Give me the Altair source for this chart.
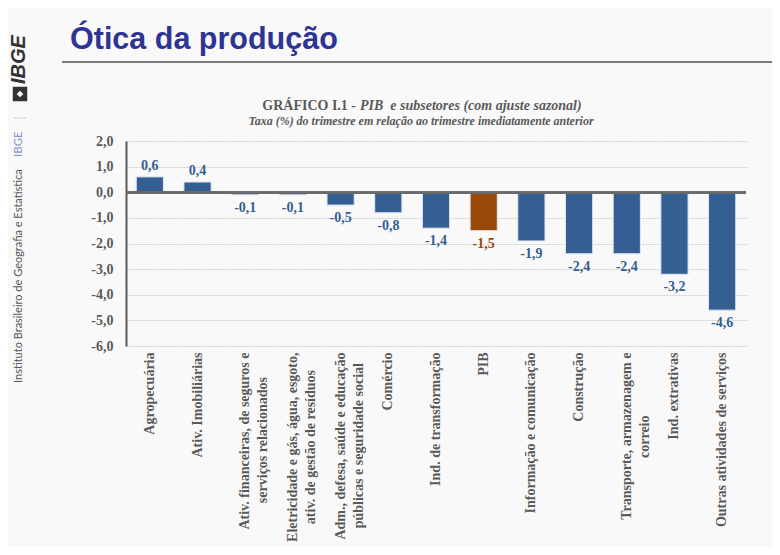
import altair as alt
import pandas as pd

categories = [
    "Agropecuária",
    "Ativ. Imobiliárias",
    "Ativ. financeiras, de seguros e\nserviços relacionados",
    "Eletricidade e gás, água, esgoto,\nativ. de gestão de resíduos",
    "Adm., defesa, saúde e educação\npúblicas e seguridade social",
    "Comércio",
    "Ind. de transformação",
    "PIB",
    "Informação e comunicação",
    "Construção",
    "Transporte, armazenagem e\ncorreio",
    "Ind. extrativas",
    "Outras atividades de serviços",
]
values = [0.6, 0.4, -0.1, -0.1, -0.5, -0.8, -1.4, -1.5, -1.9, -2.4, -2.4, -3.2, -4.6]
groups = ["setor"] * 7 + ["pib"] + ["setor"] * 5
y_ticks = [2, 1, 0, -1, -2, -3, -4, -5, -6]

slide_title = "Ótica da produção"
chart_title_a = "GRÁFICO I.1 -"
chart_title_b = "PIB\u00a0 e subsetores (com ajuste sazonal)"
chart_subtitle = "Taxa (%) do trimestre em relação ao trimestre imediatamente anterior"
side_text = "Instituto Brasileiro de Geografia e Estatística"
side_short = "IBGE"
logo_text = "IBGE"

# approximate Times-Bold advance widths (1/1000 em), used only to centre wrapped label lines
_W = {" ": 250, ",": 250, ".": 250, "a": 500, "b": 556, "c": 444, "d": 556, "e": 444,
      "f": 333, "g": 500, "h": 556, "i": 278, "j": 333, "k": 556, "l": 278, "m": 833,
      "n": 556, "o": 500, "p": 556, "q": 556, "r": 444, "s": 389, "t": 333, "u": 556,
      "v": 500, "w": 722, "x": 500, "y": 500, "z": 444, "á": 500, "ã": 500, "é": 444,
      "í": 278, "ç": 444, "ú": 556, "A": 722, "E": 667, "T": 667, "C": 722, "I": 389}


def _width(s):
    return sum(_W.get(ch, 500) for ch in s)


def centred(label):
    # rotated labels are end-anchored; pad shorter lines (NBSP + zero-width end so
    # the padding is not trimmed) so every line sits centred on the longest one
    lines = label.split("\n")
    longest = max(_width(s) for s in lines)
    out = []
    for s in lines:
        n = round((longest - _width(s)) / 2 / 250)
        out.append(s + ("\u00a0" * n + "\u200b" if n else ""))
    return "\n".join(out)


display = [centred(c) for c in categories]

df = pd.DataFrame({"cat": display, "v": values, "grp": groups})

SERIF = "Liberation Serif"
GRAY = "#595959"
BLUE = "#355f92"
ORANGE = "#994a08"
fmt = "(datum.v < 0 ? '-' : '') + replace(format(abs(datum.v), '.1f'), '.', ',')"
axis_fmt = "(datum.value < 0 ? '-' : '') + replace(format(abs(datum.value), '.1f'), '.', ',')"

x_scale = alt.Scale(paddingInner=0.43, paddingOuter=0.215)
y_scale = alt.Scale(domain=[-6, 2], nice=False)

x_axis = alt.Axis(
    title=None, labelAngle=-90, labelFont=SERIF, labelFontSize=14,
    labelFontWeight="bold", labelColor=GRAY, labelPadding=6,
    labelLimit=400, labelLineHeight=18, ticks=False, domain=False,
    labelOverlap=False, grid=False,
    labelExpr="split(datum.value, '\\n')",
)
y_axis = alt.Axis(
    title=None, values=y_ticks, labelExpr=axis_fmt, labelFont=SERIF,
    labelFontSize=14, labelFontWeight="bold", labelColor=GRAY,
    labelPadding=13, ticks=False, domainColor=GRAY, domainWidth=2,
    labelOverlap=False, labelFlush=False,
    gridColor="#d0d0d0", gridDash=[2, 1], gridWidth=1,
)
x = alt.X("cat:N", sort=display, scale=x_scale, axis=x_axis)
y = alt.Y("v:Q", scale=y_scale, axis=y_axis)
color = alt.Color("grp:N", scale=alt.Scale(domain=["setor", "pib"], range=[BLUE, ORANGE]), legend=None)
label_color = alt.Color("grp:N", scale=alt.Scale(domain=["setor", "pib"], range=["#33598a", "#9a4a10"]), legend=None)

base = alt.Chart(df)
bars = base.mark_bar(stroke="#dfe7f1", strokeWidth=1).encode(x=x, y=y, color=color)
zero = base.mark_rule(color="#6b6b6b", strokeWidth=2.5).encode(y=alt.Y(datum=0, scale=y_scale, axis=y_axis))
lab_pos = base.transform_filter("datum.v >= 0").transform_calculate(lbl=fmt).mark_text(
    font=SERIF, fontSize=14, fontWeight="bold", baseline="middle", dy=-11
).encode(x=x, y=y, text="lbl:N", color=label_color)
lab_neg = base.transform_filter("datum.v < 0").transform_calculate(lbl=fmt).mark_text(
    font=SERIF, fontSize=14, fontWeight="bold", baseline="middle", dy=13
).encode(x=x, y=y, text="lbl:N", color=label_color)

one = alt.Data(values=[{}])


def txt(s, xp, yp, **kw):
    return alt.Chart(one).mark_text(text=s, **kw).encode(x=alt.value(xp), y=alt.value(yp))


ann = [
    txt(slide_title, -56, -92, font="Liberation Sans", fontSize=30.5, fontWeight="bold", color="#2e3494", align="left", baseline="alphabetic"),
    alt.Chart(one).mark_rule(color="#505050", strokeWidth=1.5).encode(x=alt.value(-64), x2=alt.value(660), y=alt.value(-79)),
    txt(chart_title_a, 230, -31, font=SERIF, fontSize=14, fontWeight="bold", color=GRAY, align="right", baseline="alphabetic"),
    txt(chart_title_b, 234, -31, font=SERIF, fontSize=14, fontWeight="bold", fontStyle="italic", color=GRAY, align="left", baseline="alphabetic"),
    txt(chart_subtitle, 295, -16.5, font=SERIF, fontSize=12, fontWeight="bold", fontStyle="italic", color=GRAY, align="center", baseline="alphabetic"),
    txt(side_text, -107, 242, font="Lato", fontSize=11, color="#555555", align="left", baseline="middle", angle=270),
    txt(side_short, -107, 16, font="Lato", fontSize=11.5, color="#8a98c8", align="left", baseline="middle", angle=270),
    alt.Chart(one).mark_rule(color="#d0d0d0", strokeWidth=1).encode(x=alt.value(-112), x2=alt.value(-100), y=alt.value(-23)),
    txt(logo_text, -107, -57, font="Liberation Sans", fontSize=20, fontWeight="bold", fontStyle="italic", color="#333333", align="left", baseline="middle", angle=270),
    alt.Chart(one).mark_point(shape="square", filled=True, size=210, color="#333333", opacity=1).encode(x=alt.value(-106), y=alt.value(-47)),
    alt.Chart(one).mark_point(shape="diamond", filled=True, size=45, color="#f9f9f9", opacity=1).encode(x=alt.value(-106), y=alt.value(-47)),
]

chart = alt.layer(bars, zero, lab_pos, lab_neg, *ann).properties(
    width=620, height=205,
    autosize=alt.AutoSizeParams(type="none"),
    padding={"left": 118, "top": 133, "right": 26, "bottom": 201},
    background="#f9f9f9",
).configure_view(stroke=None)

chart.save("out.html", embed_options={"renderer": "svg", "actions": False})
